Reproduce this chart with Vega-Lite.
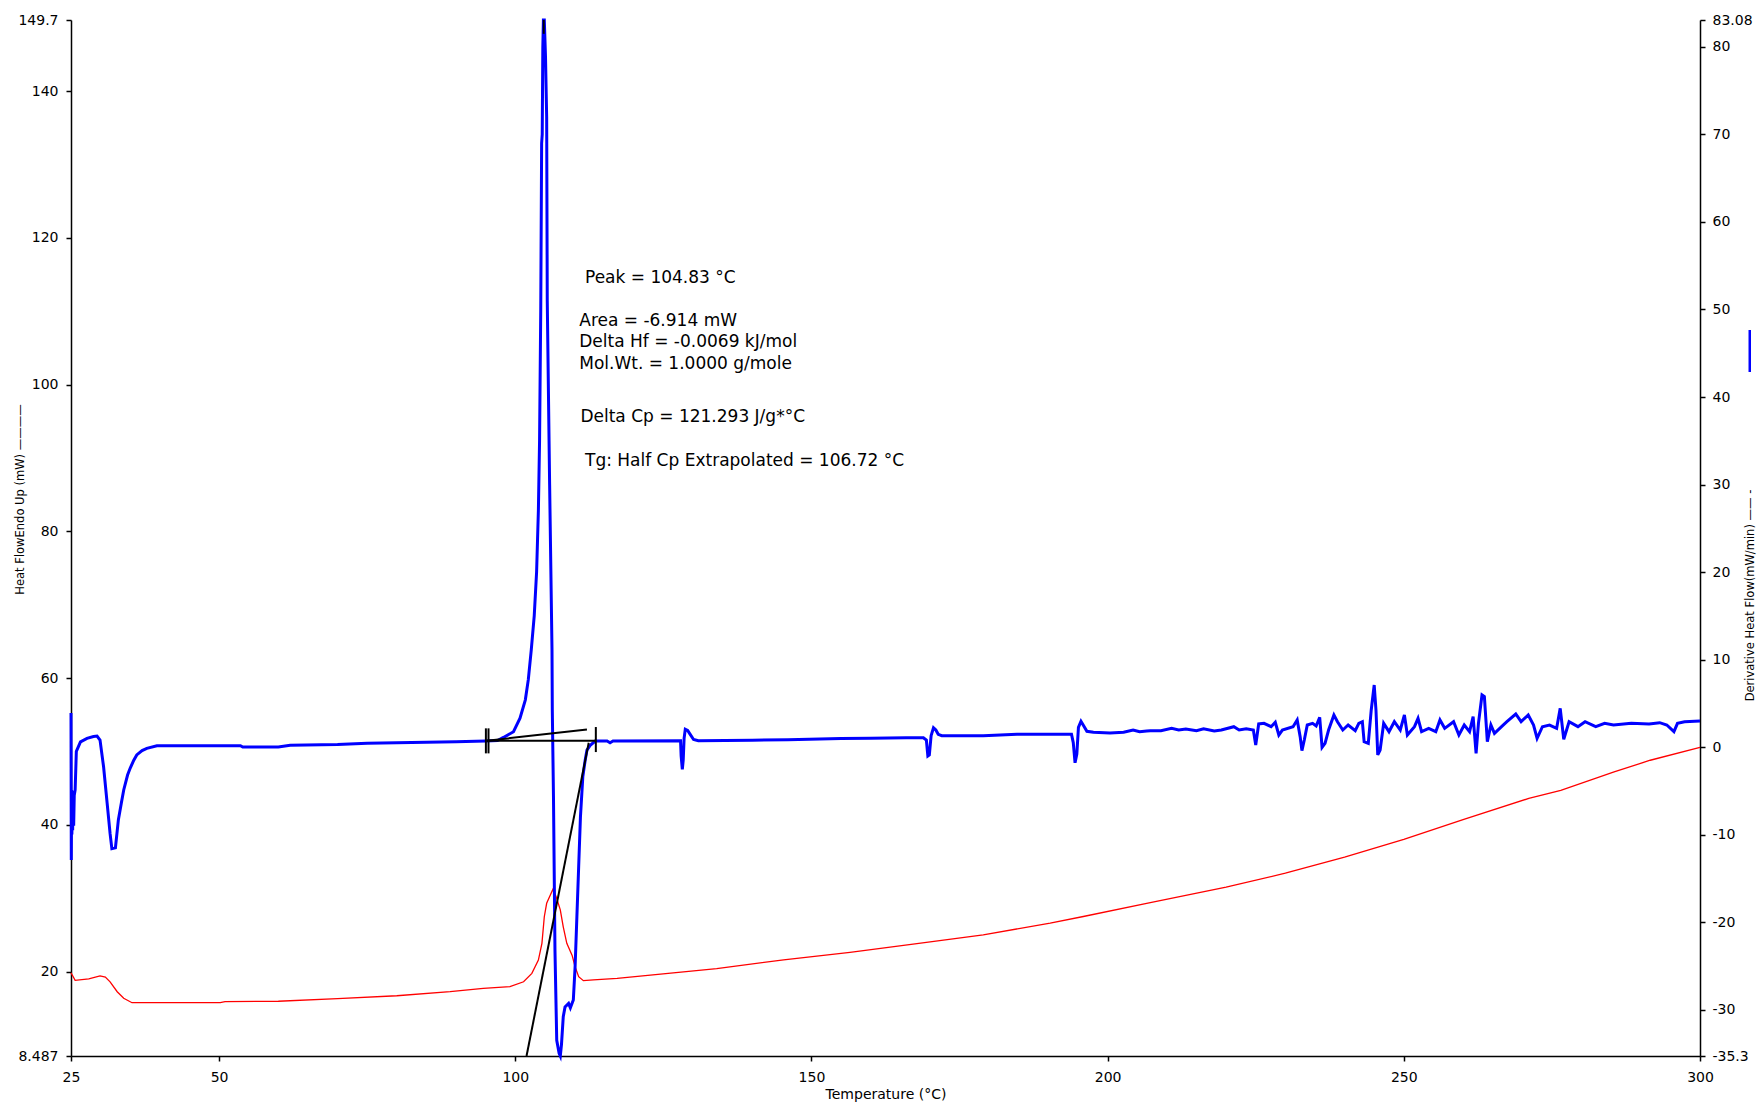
{
  "$schema": "https://vega.github.io/schema/vega-lite/v6.json",
  "width": 1629,
  "height": 1036,
  "autosize": {"type": "none"},
  "padding": {"left": 71, "top": 20, "right": 60, "bottom": 50},
  "background": "white",
  "config": {
    "view": {"stroke": null},
    "font": "DejaVu Sans",
    "axis": {
      "grid": false,
      "domainColor": "#000000",
      "domainWidth": 1.5,
      "tickColor": "#000000",
      "tickWidth": 1.5,
      "tickSize": 5,
      "labelFont": "DejaVu Sans",
      "labelFontSize": 14,
      "labelColor": "#000000",
      "labelFlush": false,
      "labelOverlap": false,
      "titleFont": "DejaVu Sans",
      "titleFontSize": 11.5,
      "titleFontWeight": "normal",
      "titleColor": "#000000"
    }
  },
  "datasets": {
    "red": [
      {"T":25.0,"v":19.84},{"T":25.7,"v":18.8},{"T":28.0,"v":19.0},{"T":29.9,"v":19.4},{"T":30.8,"v":19.25},{"T":31.6,"v":18.6},{"T":32.8,"v":17.25},{"T":33.9,"v":16.35},{"T":35.3,"v":15.75},{"T":50.2,"v":15.75},{"T":51.0,"v":15.9},{"T":60,"v":15.95},{"T":70,"v":16.3},{"T":80,"v":16.7},{"T":89,"v":17.25},{"T":94.6,"v":17.7},{"T":99.1,"v":17.93},{"T":101.4,"v":18.6},{"T":102.8,"v":19.75},{"T":103.9,"v":21.57},{"T":104.5,"v":23.85},{"T":104.9,"v":27.47},{"T":105.3,"v":29.3},{"T":105.9,"v":30.4},{"T":106.35,"v":31.2},{"T":106.9,"v":30.2},{"T":107.6,"v":28.4},{"T":108.1,"v":26.1},{"T":108.7,"v":23.85},{"T":109.6,"v":22.2},{"T":110.1,"v":20.65},{"T":110.7,"v":19.3},{"T":111.5,"v":18.75},{"T":113.2,"v":18.85},{"T":117.2,"v":19.07},{"T":122.8,"v":19.5},{"T":134.0,"v":20.4},{"T":145.3,"v":21.6},{"T":156.5,"v":22.6},{"T":167.8,"v":23.8},{"T":179.0,"v":25.0},{"T":190.3,"v":26.6},{"T":195.9,"v":27.5},{"T":207.2,"v":29.4},{"T":220,"v":31.5},{"T":230,"v":33.4},{"T":240,"v":35.6},{"T":250,"v":38.0},{"T":260,"v":40.7},{"T":271.1,"v":43.6},{"T":276.5,"v":44.7},{"T":285.5,"v":47.2},{"T":291.6,"v":48.8},{"T":300,"v":50.56}
    ],
    "labels": [
      {"T":111.77,"v":114.48,"txt":"Peak = 104.83 °C"},
      {"T":110.8,"v":108.67,"txt":"Area = -6.914 mW"},
      {"T":110.8,"v":105.77,"txt":"Delta Hf = -0.0069 kJ/mol"},
      {"T":110.8,"v":102.85,"txt":"Mol.Wt. = 1.0000 g/mole"},
      {"T":111.0,"v":95.52,"txt":"Delta Cp = 121.293 J/g*°C"},
      {"T":111.77,"v":89.55,"txt":"Tg: Half Cp Extrapolated = 106.72 °C"}
    ],
    "blue": [
      {"T":25.0,"d":3.9},{"T":25.05,"d":-12.9},{"T":25.1,"d":-4.9},{"T":25.15,"d":-10.0},{"T":25.22,"d":-5.5},{"T":25.28,"d":-9.5},{"T":25.35,"d":-5.0},{"T":25.45,"d":-9.0},{"T":25.55,"d":-5.5},{"T":25.7,"d":-4.9},{"T":25.9,"d":-0.5},{"T":26.6,"d":0.6},{"T":27.7,"d":1.0},{"T":28.8,"d":1.2},{"T":29.4,"d":1.26},{"T":29.9,"d":0.8},{"T":30.5,"d":-2.25},{"T":31.1,"d":-6.4},{"T":31.6,"d":-9.9},{"T":31.9,"d":-11.6},{"T":32.5,"d":-11.5},{"T":33.0,"d":-8.3},{"T":33.5,"d":-6.4},{"T":33.9,"d":-4.9},{"T":34.55,"d":-3.2},{"T":35.0,"d":-2.4},{"T":35.6,"d":-1.5},{"T":36.1,"d":-0.9},{"T":37.0,"d":-0.4},{"T":37.8,"d":-0.14},{"T":39.5,"d":0.15},{"T":53.6,"d":0.15},{"T":54.0,"d":0.0},{"T":60,"d":0.0},{"T":62,"d":0.2},{"T":70,"d":0.3},{"T":75,"d":0.45},{"T":80,"d":0.5},{"T":85,"d":0.55},{"T":90,"d":0.6},{"T":95,"d":0.7},{"T":97,"d":0.75},{"T":98.0,"d":1.1},{"T":99.7,"d":1.75},{"T":100.8,"d":3.3},{"T":101.7,"d":5.4},{"T":102.2,"d":7.7},{"T":102.7,"d":11.1},{"T":103.2,"d":15},{"T":103.6,"d":20},{"T":103.9,"d":27},{"T":104.1,"d":35},{"T":104.3,"d":50},{"T":104.45,"d":69},{"T":104.55,"d":70},{"T":104.65,"d":80},{"T":104.75,"d":83.08},{"T":104.9,"d":83.08},{"T":105.1,"d":79},{"T":105.3,"d":72},{"T":105.4,"d":51},{"T":105.8,"d":30},{"T":106.2,"d":11.1},{"T":106.25,"d":4.3},{"T":106.45,"d":-5.7},{"T":106.7,"d":-23.2},{"T":107.0,"d":-33.5},{"T":107.4,"d":-35.0},{"T":107.6,"d":-35.3},{"T":107.8,"d":-34.0},{"T":108.1,"d":-30.8},{"T":108.4,"d":-29.7},{"T":109.0,"d":-29.3},{"T":109.3,"d":-29.8},{"T":109.8,"d":-28.9},{"T":110.1,"d":-25.1},{"T":110.4,"d":-19.4},{"T":110.7,"d":-13.7},{"T":111.0,"d":-8.0},{"T":111.4,"d":-3.4},{"T":111.8,"d":-1.5},{"T":112.1,"d":-0.34},{"T":112.7,"d":0.24},{"T":113.5,"d":0.69},{"T":115.5,"d":0.7},{"T":116,"d":0.5},{"T":116.5,"d":0.7},{"T":127.9,"d":0.72},{"T":128.0,"d":-1.0},{"T":128.2,"d":-2.54},{"T":128.35,"d":-1.5},{"T":128.5,"d":1.0},{"T":128.7,"d":2.03},{"T":129.1,"d":1.9},{"T":129.5,"d":1.48},{"T":130.1,"d":0.87},{"T":130.9,"d":0.72},{"T":140,"d":0.78},{"T":146,"d":0.85},{"T":155,"d":0.98},{"T":160,"d":1.0},{"T":166,"d":1.07},{"T":168.9,"d":1.07},{"T":169.4,"d":0.8},{"T":169.65,"d":-1.02},{"T":169.9,"d":-0.9},{"T":170.2,"d":1.3},{"T":170.6,"d":2.21},{"T":171.0,"d":1.95},{"T":171.4,"d":1.46},{"T":172,"d":1.3},{"T":179,"d":1.3},{"T":184.7,"d":1.46},{"T":193.9,"d":1.46},{"T":194.2,"d":0.5},{"T":194.5,"d":-1.8},{"T":194.8,"d":-0.8},{"T":195.07,"d":2.25},{"T":195.5,"d":2.94},{"T":195.9,"d":2.5},{"T":196.5,"d":1.8},{"T":197.6,"d":1.69},{"T":200.4,"d":1.6},{"T":202.7,"d":1.69},{"T":204.3,"d":1.95},{"T":205.4,"d":1.75},{"T":206.6,"d":1.84},
      {"T":207.2,"d":1.87},{"T":209.0,"d":1.87},{"T":210.8,"d":2.14},{"T":212.0,"d":1.95},{"T":213.2,"d":2.07},{"T":215.0,"d":1.87},{"T":216.2,"d":2.1},{"T":218.0,"d":1.84},{"T":219.2,"d":1.95},{"T":221.3,"d":2.33},{"T":222.2,"d":1.95},{"T":223.4,"d":2.1},{"T":224.6,"d":1.95},{"T":225.0,"d":0.24},{"T":225.5,"d":2.64},{"T":226.4,"d":2.71},{"T":227.6,"d":2.33},{"T":228.3,"d":2.83},{"T":228.9,"d":1.38},{"T":229.5,"d":1.95},{"T":231.3,"d":2.33},{"T":232.0,"d":3.1},{"T":232.5,"d":1.19},{"T":232.8,"d":-0.41},{"T":233.2,"d":0.81},{"T":233.7,"d":2.52},{"T":234.6,"d":2.71},{"T":235.2,"d":2.41},{"T":235.8,"d":3.4},{"T":236.2,"d":-0.03},{"T":236.7,"d":0.43},{"T":237.3,"d":1.95},{"T":238.2,"d":3.67},{"T":238.8,"d":2.9},{"T":239.7,"d":1.95},{"T":240.6,"d":2.52},{"T":241.8,"d":1.87},{"T":242.4,"d":2.71},{"T":243.0,"d":2.9},{"T":243.3,"d":0.62},{"T":244.0,"d":0.43},{"T":244.5,"d":4.24},{"T":245.0,"d":7.09},{"T":245.3,"d":4.24},{"T":245.6,"d":-0.9},{"T":246.0,"d":-0.33},{"T":246.6,"d":2.71},{"T":247.5,"d":1.76},{"T":248.4,"d":2.9},{"T":249.4,"d":1.95},{"T":250.1,"d":3.67},{"T":250.6,"d":1.38},{"T":251.8,"d":2.33},{"T":252.4,"d":3.28},{"T":253.0,"d":1.76},{"T":254.2,"d":2.14},{"T":255.4,"d":1.76},{"T":256.1,"d":3.1},{"T":256.9,"d":2.14},{"T":258.4,"d":2.9},{"T":259.3,"d":1.38},{"T":260.2,"d":2.52},{"T":261.1,"d":1.76},{"T":261.7,"d":3.48},{"T":262.2,"d":-0.71},{"T":262.6,"d":2.71},{"T":263.2,"d":5.95},{"T":263.6,"d":5.76},{"T":264.1,"d":0.62},{"T":264.7,"d":2.52},{"T":265.3,"d":1.57},{"T":266.5,"d":2.33},{"T":267.4,"d":2.9},{"T":268.9,"d":3.78},{"T":269.8,"d":2.9},{"T":271.0,"d":3.67},{"T":271.9,"d":2.52},{"T":272.5,"d":1.0},{"T":273.4,"d":2.33},{"T":274.6,"d":2.52},{"T":275.8,"d":2.14},{"T":276.4,"d":4.43},{"T":277.0,"d":0.89},{"T":277.9,"d":2.9},{"T":279.4,"d":2.33},{"T":280.6,"d":2.9},{"T":282.4,"d":2.33},{"T":283.9,"d":2.71},{"T":285.4,"d":2.52},{"T":288.4,"d":2.71},{"T":291.4,"d":2.64},{"T":293.2,"d":2.79},{"T":294.4,"d":2.52},{"T":295.6,"d":1.76},{"T":296.2,"d":2.71},{"T":297.4,"d":2.9},{"T":300.0,"d":2.98}
    ],
    "black": [
      {"seg":"base","T":95.2,"d":0.72},{"seg":"base","T":113.6,"d":0.72},
      {"seg":"slope","T":95.2,"d":0.72},{"seg":"slope","T":112.1,"d":2.02},
      {"seg":"tan","T":101.9,"d":-35.3},{"seg":"tan","T":112.4,"d":0.5},
      {"seg":"tick1","T":95.04,"d":-0.72},{"seg":"tick1","T":95.04,"d":2.14},
      {"seg":"tick2","T":95.48,"d":-0.72},{"seg":"tick2","T":95.48,"d":2.14},
      {"seg":"tick3","T":113.6,"d":-0.57},{"seg":"tick3","T":113.6,"d":2.29},
      {"seg":"peak","T":104.8,"d":83.08},{"seg":"peak","T":104.8,"d":81.5}
    ],
    "marker": [
      {"T":308.4,"d":42.86,"d2":47.66}
    ]
  },
  "encoding": {
    "x": {
      "field": "T",
      "type": "quantitative",
      "scale": {"domain": [25, 300], "nice": false, "zero": false},
      "axis": {
        "values": [25, 50, 100, 150, 200, 250, 300],
        "title": "Temperature (°C)",
        "titleFontSize": 14,
        "labelPadding": 9,
        "titlePadding": 3
      }
    }
  },
  "layer": [
    {
      "encoding": {
        "y": {
          "field": "v",
          "type": "quantitative",
          "scale": {"domain": [8.487, 149.7], "nice": false, "zero": false},
          "axis": {
            "orient": "left",
            "values": [8.487, 20, 40, 60, 80, 100, 120, 140, 149.7],
            "labelExpr": "'' + datum.value",
            "labelPadding": 8,
            "title": "Heat FlowEndo Up (mW)  ————",
            "titleAngle": 270,
            "titleBaseline": "middle",
            "titleAlign": "center",
            "titleX": -51,
            "titleY": 479
          }
        }
      },
      "layer": [
        {
          "data": {"name": "red"},
          "mark": {"type": "line", "color": "#ff0000", "strokeWidth": 1.3, "interpolate": "linear"}
        },
        {
          "data": {"name": "labels"},
          "mark": {"type": "text", "align": "left", "baseline": "middle", "font": "DejaVu Sans", "fontSize": 17, "color": "#000000"},
          "encoding": {"text": {"field": "txt"}}
        }
      ]
    },
    {
      "encoding": {
        "y": {
          "field": "d",
          "type": "quantitative",
          "scale": {"domain": [-35.3, 83.08], "nice": false, "zero": false},
          "axis": {
            "orient": "right",
            "values": [-35.3, -30, -20, -10, 0, 10, 20, 30, 40, 50, 60, 70, 80, 83.08],
            "labelExpr": "'' + datum.value",
            "labelPadding": 7,
            "title": "Derivative Heat Flow(mW/min) ——  -",
            "titleAngle": 270,
            "titleBaseline": "middle",
            "titleAlign": "center",
            "titleX": 50,
            "titleY": 575
          }
        }
      },
      "layer": [
        {
          "data": {"name": "blue"},
          "mark": {"type": "line", "color": "#0000ff", "strokeWidth": 3, "interpolate": "linear"}
        },
        {
          "data": {"name": "black"},
          "mark": {"type": "line", "color": "#000000", "strokeWidth": 2},
          "encoding": {"detail": {"field": "seg"}}
        },
        {
          "data": {"name": "marker"},
          "mark": {"type": "rule", "color": "#0000ff", "strokeWidth": 2.5},
          "encoding": {"y2": {"field": "d2"}}
        }
      ]
    }
  ],
  "resolve": {"scale": {"y": "independent"}, "axis": {"y": "independent"}}
}
